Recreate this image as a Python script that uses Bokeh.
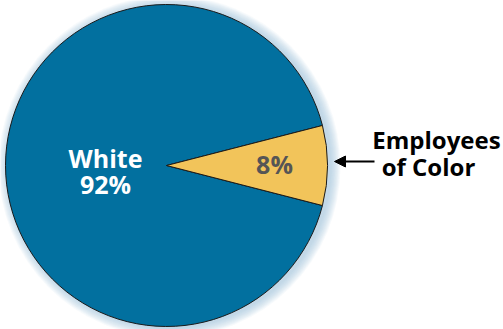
import math
from bokeh.plotting import figure
from bokeh.models import Arrow, NormalHead, Label
from bokeh.embed import file_html
from bokeh.resources import INLINE

categories = ["White", "Employees of Color"]
values = [92, 8]
colors = ["#02709F", "#F2C45A"]

W, H = 503, 329
p = figure(width=W, height=H, x_range=(0, W), y_range=(0, H),
           output_backend="svg", toolbar_location=None, min_border=0)
p.axis.visible = False
p.grid.visible = False
p.outline_line_color = None
p.background_fill_color = "white"

cx, cy, r = 166, H - 165, 161

# soft glow
for k in range(10, 0, -1):
    p.circle(x=cx + 3, y=cy - 1, radius=r + k, fill_color="#9CC3D8",
             fill_alpha=0.08, line_color=None)

total = sum(values)
share = [v / total * 2 * math.pi for v in values]
start_y = -share[1] / 2
end_y = share[1] / 2
starts = [end_y, start_y]
ends = [end_y + share[0], end_y]
p.wedge(x=[cx, cx], y=[cy, cy], radius=r, start_angle=starts, end_angle=ends,
        fill_color=colors, line_color="#1a1a1a", line_width=1)

font = "Open Sans"
def lab(x, y, t, c, fs="25px"):
    p.add_layout(Label(x=x, y=H - y, text=t, text_font=font,
                       text_font_style="bold", text_font_size=fs, text_color=c,
                       text_align="center", text_baseline="middle"))

lab(105, 157, categories[0], "white")
lab(105, 183, f"{values[0]}%", "white")
lab(274, 163, f"{values[1]}%", "#555555")
lab(436, 139, "Employees", "black", "24px")
lab(428, 166, "of Color", "black", "24px")
p.add_layout(Arrow(x_start=374, y_start=H - 161, x_end=334, y_end=H - 161,
                   line_color="black", line_width=2,
                   end=NormalHead(size=11, fill_color="black", line_color="black")))

open("out.html", "w").write(file_html(p, INLINE))
